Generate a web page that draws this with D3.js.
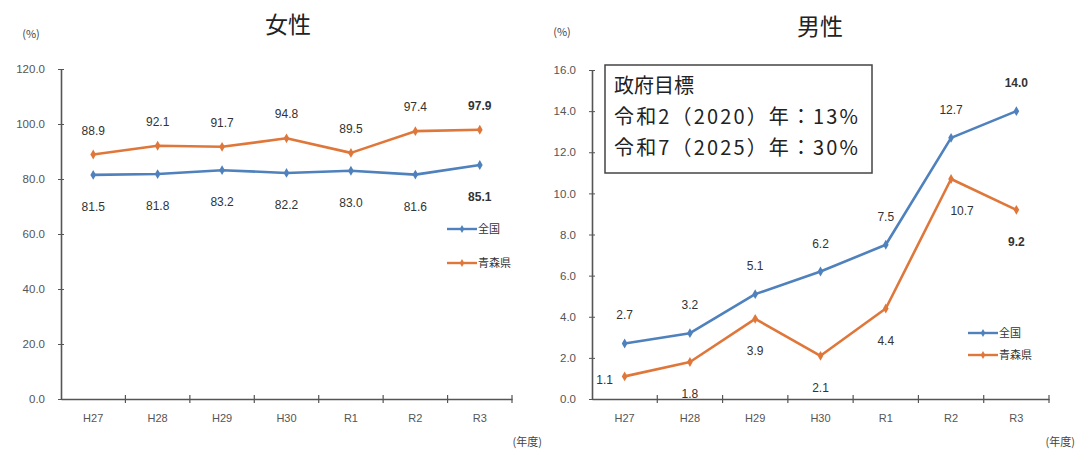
<!DOCTYPE html>
<html lang="ja">
<head>
<meta charset="utf-8">
<script src="https://cdn.jsdelivr.net/npm/d3@7"></script>
<style>
  html, body { margin: 0; padding: 0; background: #fff; }
  svg { display: block; }
  text { font-family: "Noto Sans CJK JP", "Liberation Sans", sans-serif; }
  .num { font-family: "Liberation Sans", "DejaVu Sans", sans-serif; }
</style>
</head>
<body>
<svg id="chart" width="1076" height="453"></svg>
<script>
// 育児休業取得率の推移（女性・男性）
const years = ["H27", "H28", "H29", "H30", "R1", "R2", "R3"];
const seriesNames = ["全国", "青森県"];

const femaleNational = [81.5, 81.8, 83.2, 82.2, 83.0, 81.6, 85.1];
const femaleAomori   = [88.9, 92.1, 91.7, 94.8, 89.5, 97.4, 97.9];
const maleNational   = [2.7, 3.2, 5.1, 6.2, 7.5, 12.7, 14.0];
const maleAomori     = [1.1, 1.8, 3.9, 2.1, 4.4, 10.7, 9.2];

const femaleTicks = [0, 20, 40, 60, 80, 100, 120];
const maleTicks   = [0, 2, 4, 6, 8, 10, 12, 14, 16];

const targetLines = ["政府目標", "令和2（2020）年：13%", "令和7（2025）年：30%"];

// where each value label sits relative to its point
const femaleNationalPos = ["below", "below", "below", "below", "below", "below", "below"];
const femaleAomoriPos   = ["above", "above", "above", "above", "above", "above", "above"];
const maleNationalPos   = ["above", "above", "above", "above", "above", "above", "above"];
const maleAomoriPos     = ["left", "below", "below", "below", "below", "belowRight", "below"];

const colors = { national: "#4f81bd", aomori: "#e0773a" };

const svg = d3.select("#chart");

function drawPanel(cfg) {
  const g = svg.append("g");
  const x = d3.scaleBand().domain(years).range([cfg.left, cfg.right]).padding(0);
  const y = d3.scaleLinear().domain([0, cfg.max]).range([cfg.bottom, cfg.top]);
  const cx = d => x(d) + x.bandwidth() / 2;

  // title and units
  g.append("text").attr("x", cfg.titleX).attr("y", cfg.titleY)
    .attr("text-anchor", "middle").attr("font-size", 23).attr("fill", "#222")
    .text(cfg.title);
  g.append("text").attr("x", cfg.unitX).attr("y", cfg.unitY)
    .attr("text-anchor", "middle").attr("font-size", 11).attr("fill", "#444")
    .text("(%)");
  g.append("text").attr("x", cfg.yearUnitX).attr("y", 446)
    .attr("text-anchor", "end").attr("font-size", 11).attr("fill", "#444")
    .text("(年度)");

  // y axis
  const yAxis = g.append("g").attr("transform", `translate(${cfg.left},0)`)
    .call(d3.axisLeft(y).tickValues(cfg.ticks).tickFormat(d3.format(".1f"))
      .tickSizeInner(3).tickSizeOuter(0).tickPadding(13));
  yAxis.select(".domain").attr("stroke", "#555").attr("stroke-width", 1.6);
  yAxis.selectAll(".tick line").attr("x1", -3).attr("x2", 3).attr("stroke", "#555");
  yAxis.selectAll(".tick text").attr("class", "num").attr("font-size", 11.5).attr("fill", "#555");

  // x axis: labels at category centres, ticks at category boundaries
  const xAxis = g.append("g").attr("transform", `translate(0,${cfg.bottom})`)
    .call(d3.axisBottom(x).tickSize(0).tickPadding(15));
  xAxis.select(".domain").attr("stroke", "#555").attr("stroke-width", 1.6);
  xAxis.selectAll(".tick text").attr("class", "num").attr("font-size", 11).attr("fill", "#555");
  const bounds = years.map(d => x(d)).concat([cfg.right]).slice(1);
  xAxis.selectAll(".bound").data(bounds).join("line").attr("class", "bound")
    .attr("x1", d => d).attr("x2", d => d).attr("y1", -4).attr("y2", 4)
    .attr("stroke", "#555").attr("stroke-width", 1.2);

  const line = d3.line().x((d, i) => cx(years[i])).y(d => y(d));

  cfg.series.forEach(s => {
    g.append("path").datum(s.values).attr("d", line)
      .attr("fill", "none").attr("stroke", s.color).attr("stroke-width", 2.6)
      .attr("stroke-linejoin", "round");
    g.selectAll(null).data(s.values).join("path")
      .attr("d", d3.symbol(d3.symbolDiamond, 28))
      .attr("transform", (d, i) => `translate(${cx(years[i])},${y(d)})`)
      .attr("fill", s.color);
    g.selectAll(null).data(s.values).join("text")
      .attr("class", "num")
      .attr("x", (d, i) => {
        const p = s.pos[i];
        if (p === "left") return cx(years[i]) - 20;
        if (p === "belowRight") return cx(years[i]) + 11;
        return cx(years[i]);
      })
      .attr("y", (d, i) => {
        const p = s.pos[i];
        if (p === "above") return y(d) - s.gapAbove;
        if (p === "left") return y(d) + 8;
        return y(d) + s.gapBelow;
      })
      .attr("text-anchor", "middle").attr("font-size", 12)
      .attr("font-weight", (d, i) => i === s.values.length - 1 ? "bold" : "normal")
      .attr("fill", "#333")
      .text(d => d.toFixed(1));
  });

  // legend
  cfg.series.forEach((s, k) => {
    const ly = cfg.legendY + k * cfg.legendGap;
    g.append("line").attr("x1", cfg.legendX).attr("x2", cfg.legendX + 30)
      .attr("y1", ly).attr("y2", ly).attr("stroke", s.color).attr("stroke-width", 2.4);
    g.append("path").attr("d", d3.symbol(d3.symbolDiamond, 18))
      .attr("transform", `translate(${cfg.legendX + 15},${ly})`).attr("fill", s.color);
    g.append("text").attr("x", cfg.legendX + 31).attr("y", ly + 4)
      .attr("font-size", 11).attr("fill", "#333").text(s.name);
  });

  return { g, x, y };
}

drawPanel({
  title: "女性", titleX: 288, titleY: 33, unitX: 31, unitY: 38,
  left: 61, right: 512, top: 69, bottom: 399, max: 120, ticks: femaleTicks,
  yearUnitX: 542,
  legendX: 447, legendY: 229, legendGap: 34,
  series: [
    { name: seriesNames[0], values: femaleNational, color: colors.national, pos: femaleNationalPos, gapAbove: 20, gapBelow: 36 },
    { name: seriesNames[1], values: femaleAomori, color: colors.aomori, pos: femaleAomoriPos, gapAbove: 20, gapBelow: 36 }
  ]
});

const male = drawPanel({
  title: "男性", titleX: 820, titleY: 35, unitX: 562, unitY: 36,
  left: 592, right: 1049, top: 70, bottom: 399, max: 16, ticks: maleTicks,
  yearUnitX: 1075,
  legendX: 968, legendY: 333, legendGap: 22,
  series: [
    { name: seriesNames[0], values: maleNational, color: colors.national, pos: maleNationalPos, gapAbove: 24, gapBelow: 36 },
    { name: seriesNames[1], values: maleAomori, color: colors.aomori, pos: maleAomoriPos, gapAbove: 24, gapBelow: 36 }
  ]
});

// government target box
const box = male.g.append("g");
box.append("rect").attr("x", 605).attr("y", 65).attr("width", 267).attr("height", 108)
  .attr("fill", "#fff").attr("stroke", "#444").attr("stroke-width", 1.5);
box.selectAll(null).data(targetLines).join("text")
  .attr("x", 614).attr("y", (d, i) => 93 + i * 31)
  .attr("font-size", 20).attr("fill", "#222")
  .attr("textLength", (d, i) => i === 0 ? null : 244)
  .attr("lengthAdjust", "spacing")
  .text(d => d);
</script>
</body>
</html>
